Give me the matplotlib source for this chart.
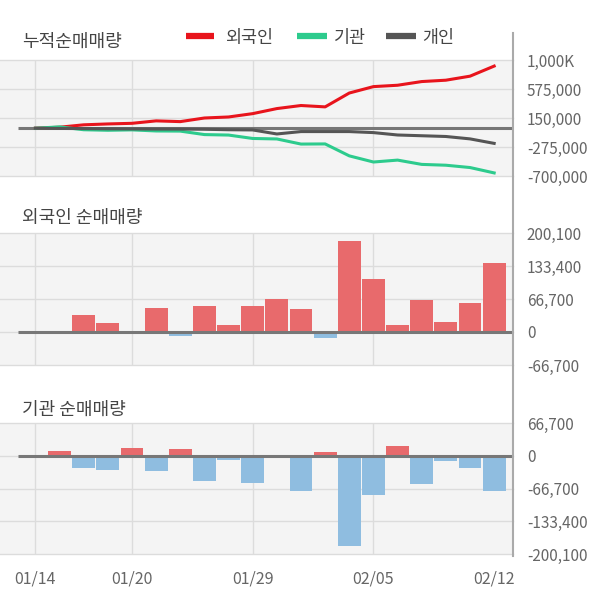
import matplotlib
matplotlib.use('Agg')
import matplotlib.pyplot as plt
import numpy as np
from matplotlib.lines import Line2D

plt.rcParams['font.family'] = ['Noto Sans CJK KR', 'DejaVu Sans']

# 거래일
dates = ['01/14', '01/15', '01/16', '01/17', '01/20', '01/21', '01/22', '01/23', '01/28', '01/29',
         '01/30', '01/31', '02/03', '02/04', '02/05', '02/06', '02/07', '02/10', '02/11', '02/12']

# 누적순매매량
foreign_cum = [0, 15000, 50000, 63000, 72000, 108000, 97000, 150000, 165000, 214000,
               288000, 333000, 313000, 516000, 610000, 630000, 684000, 704000, 763000, 911000]
inst_cum = [0, 20000, -22000, -30000, -24000, -40000, -42000, -93000, -100000, -150000,
            -157000, -232000, -230000, -405000, -495000, -467000, -530000, -542000, -576000, -655000]
indiv_cum = [0, -3000, -5000, -8000, -10000, -12000, -12000, -15000, -22000, -25000,
             -84000, -49000, -49000, -49000, -64000, -99000, -110000, -121000, -156000, -222000]

# 일별 순매매량
foreign_net = [0, 0, 33700, 17500, 0, 47800, -8100, 51900, 13500, 51900,
               66000, 46500, -12100, 183200, 106400, 13500, 64700, 19500, 57900, 138800]
inst_net = [0, 9600, -25300, -28700, 15700, -30800, 13700, -51300, -8200, -55400,
            0, -71800, 7500, -184700, -80000, 19800, -57500, -10300, -24600, -71800]

tick_idx = [0, 4, 9, 14, 19]
vgrid_idx = [0, 4, 9, 14]

ticks1 = [1000000, 575000, 150000, -275000, -700000]
labels1 = ['1,000K', '575,000', '150,000', '-275,000', '-700,000']
ticks2 = [200100, 133400, 66700, 0, -66700]
labels2 = ['200,100', '133,400', '66,700', '0', '-66,700']
ticks3 = [66700, 0, -66700, -133400, -200100]
labels3 = ['66,700', '0', '-66,700', '-133,400', '-200,100']

RED = '#e8141c'
GREEN = '#2dcb8d'
GRAY = '#555555'
BAR_RED = '#e86a6c'
BAR_BLUE = '#8fbde0'

W, H = 600, 604
fig = plt.figure(figsize=(6, 6.04), dpi=100)


def panel(top, bottom):
    return fig.add_axes([0, 1 - bottom / H, 513 / W, (bottom - top) / H])


ax1 = panel(60, 176)
ax2 = panel(233, 365)
ax3 = panel(423, 554)
x = np.arange(len(dates))
xmin, xmax = -1.466, 19.78

for ax, t, l in [(ax1, ticks1, labels1), (ax2, ticks2, labels2), (ax3, ticks3, labels3)]:
    ax.set_facecolor('#f4f4f4')
    for s in ax.spines.values():
        s.set_visible(False)
    ax.set_xlim(xmin, xmax)
    ax.set_ylim(min(t), max(t))
    ax.set_yticks(t)
    ax.set_yticklabels(l)
    ax.yaxis.tick_right()
    ax.tick_params(axis='y', length=0, pad=10, labelsize=11, labelcolor='#666666')
    ax.tick_params(axis='x', length=0)
    ax.grid(axis='y', color='#dcdcdc', lw=1)
    for gl in ax.get_ygridlines():
        gl.set_clip_on(False)
    ax.set_axisbelow(True)
    for i in vgrid_idx:
        ax.axvline(i, color='#dcdcdc', lw=1, zorder=0)
    ax.set_xticks([])

# 누적 라인
ax1.hlines(0, -0.72, xmax, color='#777777', lw=2.2, zorder=1.5)
ax1.plot(x, foreign_cum, color=RED, lw=2.2, zorder=2)
ax1.plot(x, inst_cum, color=GREEN, lw=2.2, zorder=2)
ax1.plot(x, indiv_cum, color=GRAY, lw=2.2, zorder=2.5)

# 막대
for ax, vals in [(ax2, foreign_net), (ax3, inst_net)]:
    cols = [BAR_RED if v >= 0 else BAR_BLUE for v in vals]
    ax.bar(x, vals, width=0.95, color=cols, zorder=2)
    ax.hlines(0, -0.72, xmax, color='#777777', lw=2.2, zorder=3)

ax3.set_xticks(tick_idx)
ax3.set_xticklabels([dates[i] for i in tick_idx])
ax3.tick_params(axis='x', pad=12, labelsize=11.5, labelcolor='#666666')

# 오른쪽 축선
fig.add_artist(Line2D([513 / W, 513 / W], [1 - 33 / H, 1 - 556 / H], color='#aaaaaa', lw=1.5))

# 제목
fig.text(22 / W, 1 - 42 / H, '누적순매매량', va='center', fontsize=13, color='#444444')
fig.text(22 / W, 1 - 218 / H, '외국인 순매매량', va='center', fontsize=13, color='#444444')
fig.text(22 / W, 1 - 410 / H, '기관 순매매량', va='center', fontsize=13, color='#444444')

# 범례
for name, c, x0, x1, tx in [('외국인', RED, 186, 214, 225), ('기관', GREEN, 297, 327, 334), ('개인', GRAY, 386, 416, 422)]:
    fig.add_artist(Line2D([x0 / W, x1 / W], [1 - 36 / H, 1 - 36 / H], color=c, lw=4.5, solid_capstyle='butt'))
    fig.text(tx / W, 1 - 38 / H, name, va='center', fontsize=12.5, color='#444444')

fig.savefig('out.png', dpi=100, facecolor='white')
